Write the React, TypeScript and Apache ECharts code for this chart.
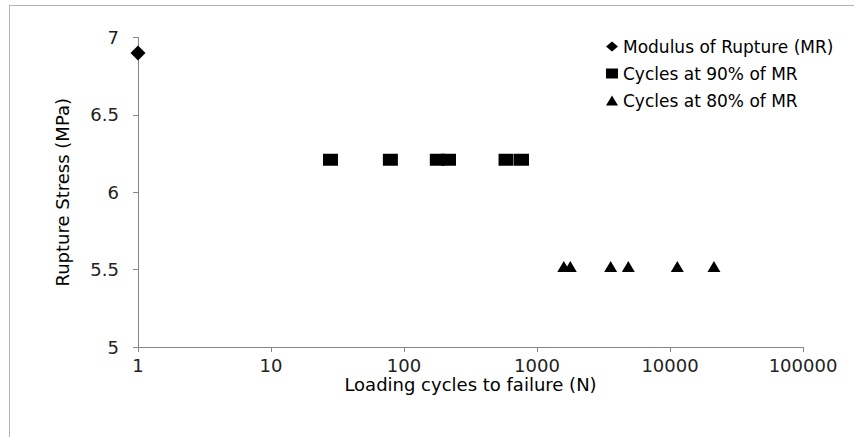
import React, { useEffect, useRef } from "react";
import * as echarts from "echarts";

const seriesNames = ["Modulus of Rupture (MR)", "Cycles at 90% of MR", "Cycles at 80% of MR"];
const mrCycles = [1];
const mrStress = [6.9];
const cycles90 = [28, 79, 178, 216, 585, 765];
const stress90 = [6.21, 6.21, 6.21, 6.21, 6.21, 6.21];
const cycles80 = [1590, 1780, 3580, 4860, 11350, 21400];
const stress80 = [5.52, 5.52, 5.52, 5.52, 5.52, 5.52];
const xTitle = "Loading cycles to failure (N)";
const yTitle = "Rupture Stress (MPa)";

const FONT = "DejaVu Sans";

function pairs(xs: number[], ys: number[]) {
  return xs.map((x, i) => [x, ys[i]]);
}

export default function App() {
  const ref = useRef<HTMLDivElement>(null);
  useEffect(() => {
    if (!ref.current) return;
    const chart = echarts.init(ref.current, undefined, { renderer: "svg" });
    const axisColor = "#868686";
    chart.setOption({
      animation: false,
      backgroundColor: "#ffffff",
      textStyle: { fontFamily: FONT },
      grid: { left: 138, right: 61, top: 37.5, bottom: 90 },
      legend: {
        orient: "vertical",
        left: 601,
        top: 32,
        itemWidth: 12,
        itemHeight: 10,
        itemGap: 8,
        textStyle: { fontFamily: FONT, fontSize: 17, color: "#000", lineHeight: 19 },
        data: [
          { name: seriesNames[0], icon: "diamond" },
          { name: seriesNames[1], icon: "rect" },
          { name: seriesNames[2], icon: "triangle" },
        ],
      },
      xAxis: {
        type: "log",
        logBase: 10,
        min: 1,
        max: 100000,
        name: xTitle,
        nameLocation: "middle",
        nameGap: 28,
        nameMoveOverlap: false,
        nameTextStyle: { fontFamily: FONT, fontSize: 18, color: "#000", lineHeight: 18 },
        axisLine: { show: true, lineStyle: { color: axisColor, width: 1 } },
        axisTick: { show: true, inside: false, length: 5, lineStyle: { color: axisColor } },
        axisLabel: {
          fontFamily: FONT,
          fontSize: 18,
          lineHeight: 16,
          color: "#222",
          margin: 10,
          formatter: (v: number) => String(Math.round(v)),
        },
        splitLine: { show: false },
        minorTick: { show: false },
      },
      yAxis: {
        type: "value",
        min: 5,
        max: 7,
        interval: 0.5,
        name: yTitle,
        nameLocation: "middle",
        nameGap: 67,
        nameRotate: 90,
        nameMoveOverlap: false,
        nameTextStyle: { fontFamily: FONT, fontSize: 18, color: "#000" },
        axisLine: { show: true, lineStyle: { color: axisColor, width: 1 } },
        axisTick: { show: true, inside: false, length: 5, lineStyle: { color: axisColor } },
        axisLabel: { fontFamily: FONT, fontSize: 18, color: "#222", margin: 19 },
        splitLine: { show: false },
      },
      series: [
        {
          name: seriesNames[0],
          type: "scatter",
          symbol: "diamond",
          symbolSize: [15, 15],
          itemStyle: { color: "#000", opacity: 1 },
          data: pairs(mrCycles, mrStress),
        },
        {
          name: seriesNames[1],
          type: "scatter",
          symbol: "rect",
          symbolSize: [15, 12],
          itemStyle: { color: "#000", opacity: 1 },
          data: pairs(cycles90, stress90),
        },
        {
          name: seriesNames[2],
          type: "scatter",
          symbol: "triangle",
          symbolSize: [13, 11],
          itemStyle: { color: "#000", opacity: 1 },
          data: pairs(cycles80, stress80),
        },
      ],
      graphic: [
        {
          type: "line",
          shape: { x1: 9, y1: 5.5, x2: 854, y2: 5.5 },
          style: { stroke: "#b3b3b3", lineWidth: 1 },
        },
        {
          type: "line",
          shape: { x1: 9.5, y1: 5, x2: 9.5, y2: 437 },
          style: { stroke: "#b3b3b3", lineWidth: 1 },
        },
      ],
    });
    return () => chart.dispose();
  }, []);
  return <div ref={ref} style={{ width: 864, height: 437, position: "fixed", left: 0, top: 0 }} />;
}
